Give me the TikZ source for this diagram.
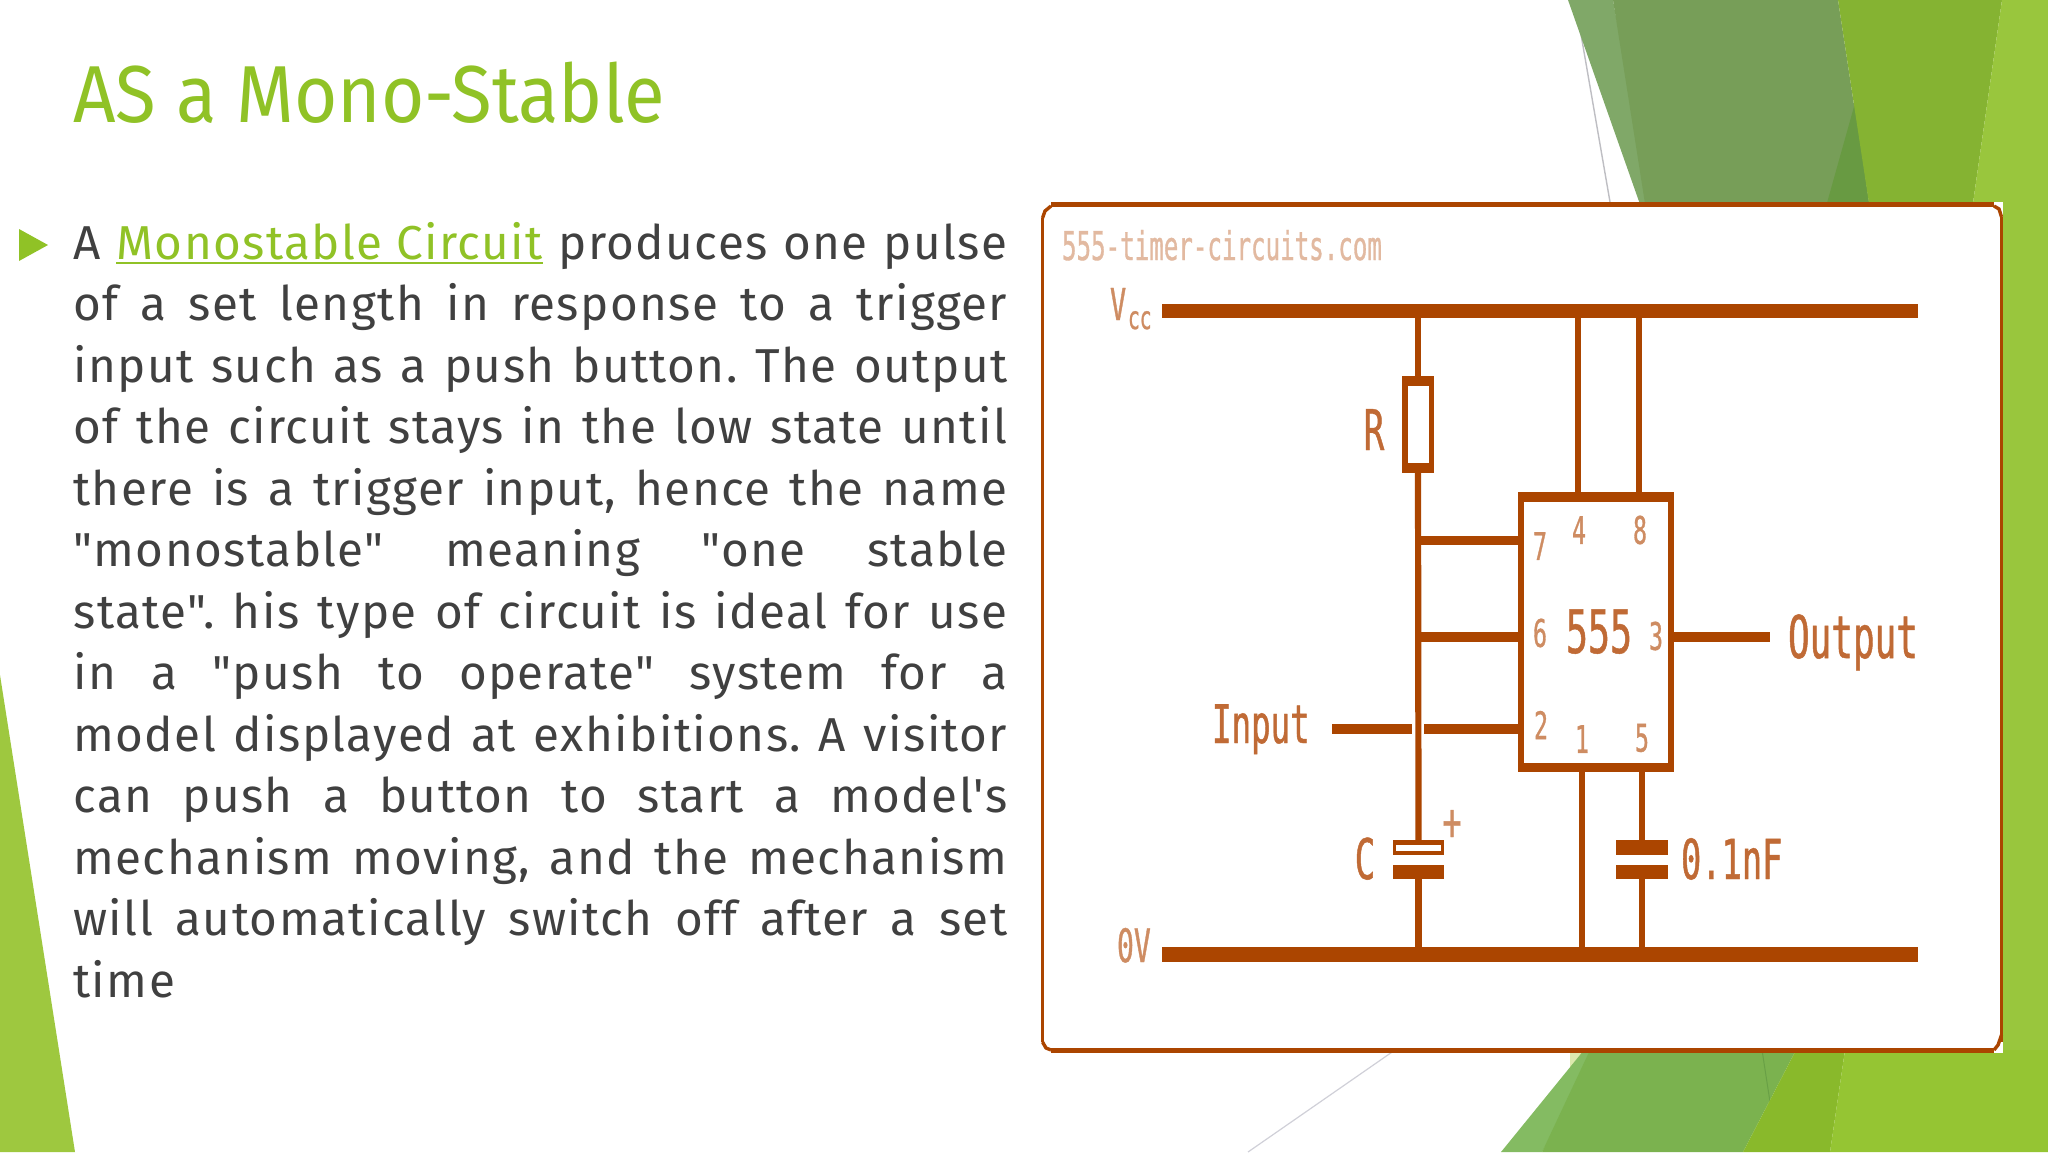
\documentclass[tikz,border=0pt]{standalone}
\usepackage{fontspec}
\setmainfont{Fira Sans}
\newfontfamily\titlef[FakeStretch=0.92]{Fira Sans}
\newfontfamily\bodyf[LetterSpace=3]{Fira Sans}
\newfontfamily\pixf[FakeStretch=0.61,FakeBold=0.8]{DejaVu Sans Mono}
\definecolor{cOr}{HTML}{AB4500}
\definecolor{cLbl}{HTML}{C06A35}
\definecolor{cPin}{HTML}{CE8C62}
\definecolor{cWm}{HTML}{E2B9A0}
\definecolor{cTitle}{HTML}{90C226}
\definecolor{cText}{HTML}{404040}
\definecolor{gA}{HTML}{9EC83F}
\definecolor{gB}{HTML}{80A868}
\definecolor{gC}{HTML}{779E58}
\definecolor{gD}{HTML}{689A42}
\definecolor{gE}{HTML}{85B332}
\definecolor{gF}{HTML}{99C63D}
\definecolor{gG}{HTML}{DDE9AE}
\definecolor{gH}{HTML}{84BB62}
\definecolor{gI}{HTML}{7BB24F}
\definecolor{gJ}{HTML}{89B92B}
\definecolor{gK}{HTML}{95C533}
\definecolor{gL}{HTML}{69A046}
\definecolor{lnA}{HTML}{BEBEC3}
\definecolor{lnB}{HTML}{D0D0D8}
\newcommand\pxbox[6][]{%
 \pgfmathsetmacro\bw{(#5-#3)*0.5}\pgfmathsetmacro\bh{(#6-#4)*0.5}%
 \pgfmathsetmacro\bx{(#5+#3)/2}\pgfmathsetmacro\by{(#6+#4)/2}%
 \node[solid box,minimum width=\bw pt,minimum height=\bh pt,#1] (#2) at (\bx,\by) {};}
\newcommand\linku[1]{\setbox0\hbox{#1}\rlap{\color{cTitle}\rule[-2.6pt]{\wd0}{1pt}}\box0}
\tikzset{
 solid box/.style={rectangle,inner sep=0pt,outer sep=0pt,fill=cOr,draw=none},
 wire/.style={draw=cOr,line width=3.1pt},
 thickwire/.style={draw=cOr,line width=4.6pt},
 framepart/.style={draw=cOr,line width=1.7pt},
 lbl/.style={inner sep=0pt,outer sep=0pt,text=cLbl},
 pin/.style={inner sep=0pt,outer sep=0pt,text=cPin,font=\pixf\fontsize{19}{22}\selectfont},
}
\begin{document}
\begin{tikzpicture}[x=0.5pt,y=-0.5pt]
\useasboundingbox (0,0) rectangle (2048,1152);
\fill[white] (0,0) rectangle (2048,1152);
% left wedge
\fill[gA] (0,675) -- (75,1152) -- (0,1152) -- cycle;
% top right shapes
\draw[lnA,line width=0.7pt] (1575,0) -- (1610,202);
\fill[gB] (1568,0) -- (1613,0) -- (1650,210) -- (1642,210) -- cycle;
\fill[gC] (1613,0) -- (1838,0) -- (1870,210) -- (1646,210) -- cycle;
\fill[gD] (1855,103) -- (1870,210) -- (1825,210) -- cycle;
\fill[gE] (1838,0) -- (2002,0) -- (1972,210) -- (1870,210) -- cycle;
\fill[gF] (2002,0) -- (2048,0) -- (2048,1060) -- (1960,1060) -- (1960,210) -- (1972,210) -- cycle;
% bottom right shapes
\draw[lnB,line width=0.6pt] (1395,1050) -- (1248,1152);
\fill[gG] (1570,1050) -- (1586,1050) -- (1570,1082) -- cycle;
\fill[gH] (1584,1050) -- (1600,1050) -- (1542,1152) -- (1501,1152) -- cycle;
\fill[gI] (1590,1050) -- (1796,1050) -- (1743,1152) -- (1542,1152) -- cycle;
\draw[gL,line width=0.5pt] (1762,1050) -- (1770,1102);
\fill[gJ] (1796,1050) -- (1845,1050) -- (1830,1152) -- (1743,1152) -- cycle;
\fill[gK] (1845,1050) -- (2048,1050) -- (2048,1152) -- (1830,1152) -- cycle;
% panel
\pxbox[fill=white]{panel}{1041}{202}{2003}{1053}
\draw[framepart,line width=2.5pt] (1051,204.5) -- (1994,204.5);
\draw[framepart,line width=2.5pt] (1051,1050.5) -- (1994,1050.5);
\draw[framepart] (1042.5,218) -- (1042.5,1042);
\draw[framepart] (2001.5,217) -- (2001.5,1042);
\draw[framepart] (1042.5,218) -- (1045,211) -- (1051,206);
\draw[framepart] (1994,206) -- (1999,209) -- (2001.5,217);
\draw[framepart] (1042.5,1042) -- (1046,1048) -- (1051,1050);
\draw[framepart] (2001.5,1035) -- (1998,1045) -- (1994,1050);
% title and body
\node[inner sep=0pt,anchor=base west,text=cTitle,font=\titlef\fontsize{40.4}{48}\selectfont] (title) at (73,122) {AS a Mono-Stable};
\fill[cTitle] (19,229) -- (48,245) -- (19,261) -- cycle;
\node[inner sep=0pt,anchor=base west,text=cText,text width=467pt,align=justify,font=\bodyf\fontsize{23.8}{30.75}\selectfont] (body) at (73,259) {\frenchspacing
A \textcolor{cTitle}{\linku{Monostable Circuit}} produces one pulse\linebreak
of a set length in response to a trigger\linebreak
input such as a push button. The output\linebreak
of the circuit stays in the low state until\linebreak
there is a trigger input, hence the name\linebreak
"monostable" meaning "one stable\linebreak
state". his type of circuit is ideal for use\linebreak
in a "push to operate" system for a\linebreak
model displayed at exhibitions. A visitor\linebreak
can push a button to start a model's\linebreak
mechanism moving, and the mechanism\linebreak
will automatically switch off after a set\linebreak
time};
% circuit components
\pxbox{vcc}{1162}{304}{1918}{318}
\pxbox{gnd}{1162}{947}{1918}{962}
\pxbox{R}{1402}{376}{1434}{473}
\pxbox[fill=white]{Rin}{1408}{386}{1429}{463}
\pxbox{IC}{1518}{492}{1674}{772}
\pxbox[fill=white]{ICin}{1524}{502}{1668}{763}
\pxbox{Ct}{1393}{840}{1444}{855}
\pxbox[fill=white]{Ctin}{1396}{845}{1441}{851}
\pxbox{Cb}{1393}{865}{1444}{879}
\pxbox{Dt}{1616}{840}{1668}{855}
\pxbox{Db}{1616}{865}{1668}{879}
\coordinate (p4) at (1578,492);
\coordinate (p8) at (1639,492);
\coordinate (p1) at (1582,772);
\coordinate (p7) at (1518,540.5);
\coordinate (p6) at (1518,637);
\coordinate (p2) at (1518,729);
\coordinate (p3) at (1674,637);
\coordinate (out) at (1770,637);
\coordinate (inL) at (1332,729);
\coordinate (gapL) at (1412,729);
\coordinate (gapR) at (1424,729);
% connectors
\draw[wire] (vcc.south -| R.north) -- (R.north);
\draw[wire] (R.south) -- (Ct.north);
\draw[wire] (Cb.south) -- (gnd.north -| Cb.south);
\draw[wire] (p4) -- (p4 |- vcc.south);
\draw[wire] (p8) -- (p8 |- vcc.south);
\draw[wire] (p1) -- (p1 |- gnd.north);
\draw[wire] (IC.south -| Dt.north) -- (Dt.north);
\draw[wire] (Db.south) -- (gnd.north -| Db.south);
\draw[thickwire] (p7) -- (p7 -| R.south);
\draw[thickwire] (p6) -- (p6 -| R.south);
\draw[thickwire] (p3) -- (out);
\draw[thickwire] (inL) -- (gapL);
\draw[thickwire] (gapR) -- (p2);
% labels
\node[lbl,text=cWm,anchor=base west,font=\pixf\fontsize{19.8}{24}\selectfont] (site) at (1062,260) {555-timer-circuits.com};
\node[lbl,anchor=base west,font=\pixf\fontsize{22}{24}\selectfont,text=cPin] (vlab) at (1110,320) {V};
\node[lbl,anchor=base west,font=\pixf\fontsize{16}{18}\selectfont,text=cPin] (cclab) at (1128,329) {cc};
\node[lbl,anchor=base,font=\pixf\fontsize{28}{32}\selectfont] (rlab) at (1374,450) {R};
\node[lbl,anchor=base,font=\pixf\fontsize{28}{32}\selectfont] (clab) at (1365,879) {C};
\node[lbl,anchor=base west,font=\pixf\fontsize{26.6}{30}\selectfont] (inlab) at (1212,743) {Input};
\node[lbl,anchor=base west,font=\pixf\fontsize{29.5}{34}\selectfont] (outlab) at (1788,658) {Output};
\node[lbl,anchor=base west,font=\pixf\fontsize{27.6}{30}\selectfont] (nf) at (1681,879) {0.1nF};
\node[lbl,text=cPin,anchor=base west,font=\pixf\fontsize{23}{24}\selectfont] (ovlab) at (1117,962) {0V};
\node[lbl,anchor=base,font=\pixf\fontsize{30}{32}\selectfont] (t555) at (1599,653) {555};
\node[pin] (n7) at (1540,546) {7};
\node[pin] (n4) at (1579,530) {4};
\node[pin] (n8) at (1640,530) {8};
\node[pin] (n6) at (1540,633) {6};
\node[pin] (n3) at (1656,636) {3};
\node[pin] (n2) at (1541,725) {2};
\node[pin] (n1) at (1582,739) {1};
\node[pin] (n5) at (1642,738) {5};
\node[pin,font=\pixf\fontsize{26}{30}\selectfont] (plus) at (1452,825) {+};
\end{tikzpicture}
\end{document}
